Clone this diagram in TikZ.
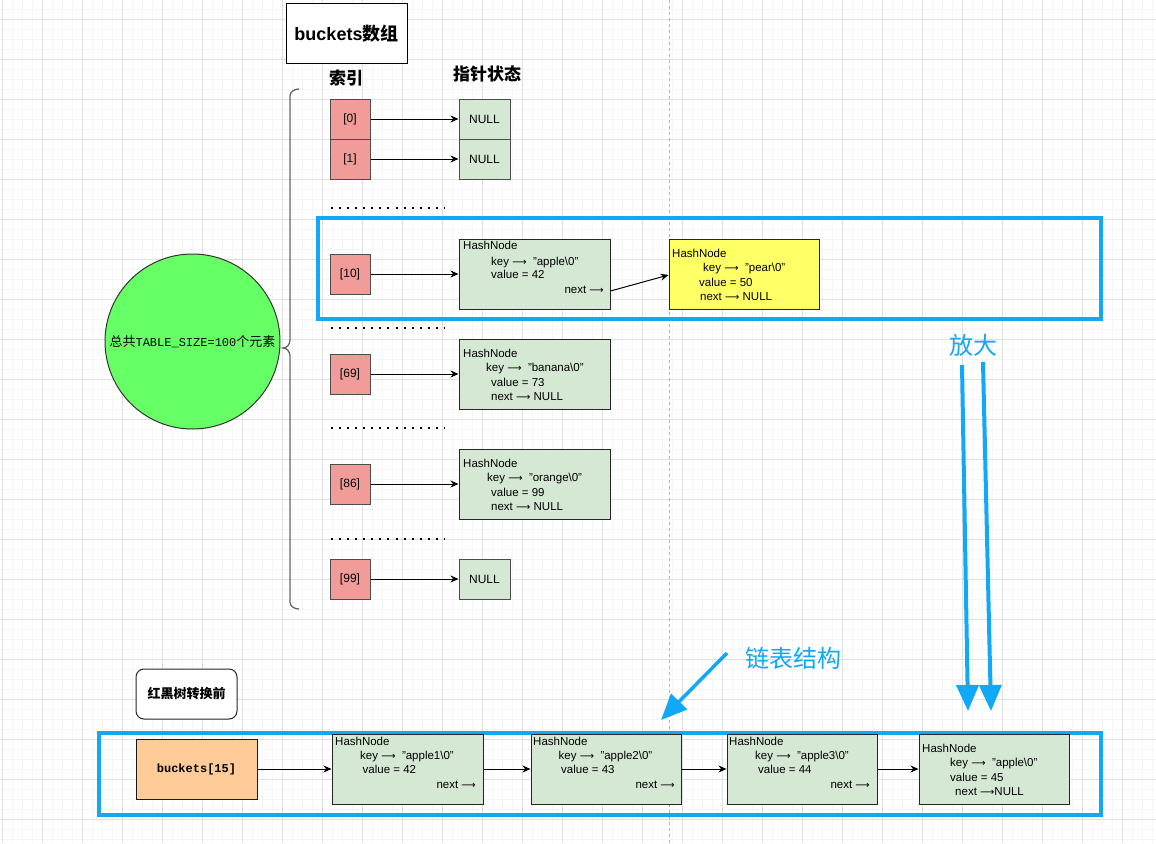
\documentclass[tikz,border=0pt]{standalone}
\usepackage{fontspec}
\setmainfont{Liberation Sans}
\newfontfamily\cjk{Noto Sans CJK SC}
\newfontfamily\monof{Liberation Mono}
\newfontfamily\symf{DejaVu Sans}
\usetikzlibrary{arrows.meta}
\newcommand{\mylarr}{{\symf\fontsize{10}{12}\selectfont ⟶}}
\newcommand{\qq}{\symbol{"22}}
\definecolor{blueX}{HTML}{12A8F8}
\definecolor{idxfill}{HTML}{F19C99}
\definecolor{hnfill}{HTML}{D5E8D4}
\definecolor{yelfill}{HTML}{FFFF66}
\definecolor{orafill}{HTML}{FFCC99}
\definecolor{circfill}{HTML}{66FF66}
\begin{document}
\begin{tikzpicture}[x=1pt,y=-1pt,
  gridminor/.style={draw=black!4, line width=0.8pt},
  gridmajor/.style={draw=black!12, line width=0.8pt},
  idx/.style={draw=black!70, fill=idxfill, minimum width=40pt, minimum height=40pt, inner sep=0pt, line width=1pt, font=\fontsize{12}{14}\selectfont},
  nullbox/.style={draw=black!70, fill=hnfill, minimum width=51pt, minimum height=40pt, inner sep=0pt, line width=1pt, font=\fontsize{12}{14}\selectfont},
  hnbox/.style={draw=black!85, fill=hnfill, minimum width=151pt, minimum height=70pt, inner sep=0pt, line width=1pt},
  txt/.style={inner sep=0pt, anchor=base west, font=\fontsize{11.5}{14}\selectfont},
  txtr/.style={inner sep=0pt, anchor=base east, font=\fontsize{11.5}{14}\selectfont},
  conn/.style={draw=black, line width=1pt, -{Stealth[length=8pt,width=7pt]}},
  dotrow/.style={draw=black, line width=2pt, dash pattern=on 2pt off 6.07pt},
  bluebox/.style={draw=blueX, line width=4pt},
  bigarrow/.style={draw=blueX, line width=4pt, -{Triangle[length=26pt,width=22pt]}},
  bluetext/.style={text=blueX, inner sep=0pt, font=\cjk\fontsize{24}{28}\selectfont},
  title/.style={draw=black, fill=white, line width=1pt, minimum width=121pt, minimum height=60pt, inner sep=0pt}
]
\useasboundingbox (0,0) rectangle (1156,843);
\fill[white] (0,0) rectangle (1156,843);
% grid
\foreach \x in {2,12,...,1156} \draw[gridminor] (\x,0) -- (\x,843);
\foreach \y in {9,19,...,843} \draw[gridminor] (0,\y) -- (1156,\y);
\foreach \x in {2,42,...,1156} \draw[gridmajor] (\x,0) -- (\x,843);
\foreach \y in {19,59,...,843} \draw[gridmajor] (0,\y) -- (1156,\y);
% page break line
\draw[black!30, line width=1pt, dash pattern=on 3pt off 3pt] (669,0) -- (669,843);

% header
\node[title] (hdr) at (346.5,34) {\fontsize{18}{20}\selectfont\bfseries buckets{\cjk 数组}};
\node[inner sep=0pt, font=\cjk\bfseries\fontsize{17}{20}\selectfont] (hidx) at (346,78) {索引};
\node[inner sep=0pt, font=\cjk\bfseries\fontsize{17}{20}\selectfont] (hptr) at (487,74) {指针状态};

% brace
\draw[black!60, line width=1.3pt] (299,89) to[out=180,in=90] (290,96) -- (290,340)
  to[out=-90,in=0] (283,348) to[out=0,in=90] (290,356) -- (290,602) to[out=-90,in=180] (299,609);

% circle
\node[circle, draw=black!80, fill=circfill, line width=1pt, minimum size=175pt, inner sep=0pt] (circ) at (192.5,341.5)
  {\fontsize{13}{16}\selectfont{\cjk 总共}{\monof\fontsize{12}{15}\selectfont TABLE\_SIZE=100}{\cjk 个元素}};

% blue frames
\node[bluebox, minimum width=783.5pt, minimum height=101pt, inner sep=0pt] (frameA) at (709.25,268.5) {};
\node[bluebox, minimum width=1002.5pt, minimum height=82pt, inner sep=0pt] (frameB) at (599.75,773.5) {};

% index boxes
\node[idx] (i0) at (350,119) {[0]};
\node[idx] (i1) at (350,159) {[1]};
\node[idx] (i10) at (350,274) {[10]};
\node[idx] (i69) at (350,374) {[69]};
\node[idx] (i86) at (350,484) {[86]};
\node[idx] (i99) at (350,579) {[99]};

% NULL boxes
\node[nullbox] (n0) at (484.5,119) {NULL};
\node[nullbox] (n1) at (484.5,159) {NULL};
\node[nullbox] (n99) at (484.5,579) {NULL};

% dotted rows
\coordinate (d1a) at (331,208); \coordinate (d1b) at (445,208);
\coordinate (d2a) at (331,328); \coordinate (d2b) at (445,328);
\coordinate (d3a) at (331,428); \coordinate (d3b) at (445,428);
\coordinate (d4a) at (331,539); \coordinate (d4b) at (445,539);
\draw[dotrow] (d1a) -- (d1b);
\draw[dotrow] (d2a) -- (d2b);
\draw[dotrow] (d3a) -- (d3b);
\draw[dotrow] (d4a) -- (d4b);

% hash nodes upper
\node[hnbox] (h10) at (534.5,274) {};
\node[txt] (h10a) at (463,249) {HashNode};
\node[txt] (h10b) at (491,265) {key \mylarr\ \ \qq apple\textbackslash 0\qq};
\node[txt] (h10c) at (491,278) {value = 42};
\node[txtr] (h10d) at (604,293) {next \mylarr};

\node[hnbox, fill=yelfill, minimum width=150pt] (y10) at (744,274) {};
\node[txt] (y10a) at (672,257) {HashNode};
\node[txt] (y10b) at (703,271) {key \mylarr\ \ \qq pear\textbackslash 0\qq};
\node[txt] (y10c) at (699,286) {value = 50};
\node[txt] (y10d) at (700,300) {next \mylarr\ NULL};

\node[hnbox] (h69) at (534.5,374) {};
\node[txt] (h69a) at (463,357) {HashNode};
\node[txt] (h69b) at (486,371) {key \mylarr\ \ \qq banana\textbackslash 0\qq};
\node[txt] (h69c) at (491,386) {value = 73};
\node[txt] (h69d) at (491,400) {next \mylarr\ NULL};

\node[hnbox] (h86) at (534.5,484) {};
\node[txt] (h86a) at (463,467) {HashNode};
\node[txt] (h86b) at (487,481) {key \mylarr\ \ \qq orange\textbackslash 0\qq};
\node[txt] (h86c) at (491,496) {value = 99};
\node[txt] (h86d) at (491,510) {next \mylarr\ NULL};

% upper connectors
\draw[conn] (i0) -- (n0);
\draw[conn] (i1) -- (n1);
\draw[conn] (i10) -- (h10);
\draw[conn] (i69) -- (h69);
\draw[conn] (i86) -- (h86);
\draw[conn] (i99) -- (n99);
\draw[conn] ([yshift=-17pt]h10.east) -- ([yshift=-1pt]y10.west);

% annotations
\node[bluetext] (zoomtxt) at (973,345) {放大};
\coordinate (fa1s) at (962,365); \coordinate (fa1e) at (968,711);
\coordinate (fa2s) at (983,362); \coordinate (fa2e) at (991,711);
\draw[bigarrow] (fa1s) -- (fa1e);
\draw[bigarrow] (fa2s) -- (fa2e);
\node[bluetext] (listtxt) at (793,658) {链表结构};
\coordinate (la1s) at (727,653); \coordinate (la1e) at (661,720);
\draw[bigarrow, line width=3.5pt] (la1s) -- (la1e);

% bottom
\node[draw=black!85, fill=white, rounded corners=8pt, line width=1pt, minimum width=101pt, minimum height=50pt, inner sep=0pt,
  font=\cjk\bfseries\fontsize{13}{15}\selectfont] (rbt) at (186.5,694) {红黑树转换前};
\node[draw=black!90, fill=orafill, line width=1pt, minimum width=121pt, minimum height=60pt, inner sep=0pt,
  font=\monof\bfseries\fontsize{12}{14}\selectfont] (b15) at (196.5,769) {buckets[15]};

\node[hnbox] (m1) at (407.5,769) {};
\node[txt] (m1a) at (335,745) {HashNode};
\node[txt] (m1b) at (360,759) {key \mylarr\ \ \qq apple1\textbackslash 0\qq};
\node[txt] (m1c) at (362.5,773) {value = 42};
\node[txtr] (m1d) at (476,788) {next \mylarr};

\node[hnbox, minimum width=150pt] (m2) at (606,769) {};
\node[txt] (m2a) at (533,745) {HashNode};
\node[txt] (m2b) at (558.5,759) {key \mylarr\ \ \qq apple2\textbackslash 0\qq};
\node[txt] (m2c) at (561,773) {value = 43};
\node[txtr] (m2d) at (675,788) {next \mylarr};

\node[hnbox, minimum width=150pt] (m3) at (802,769) {};
\node[txt] (m3a) at (729,745) {HashNode};
\node[txt] (m3b) at (755,759) {key \mylarr\ \ \qq apple3\textbackslash 0\qq};
\node[txt] (m3c) at (758,773) {value = 44};
\node[txtr] (m3d) at (870,788) {next \mylarr};

\node[hnbox, minimum width=150pt] (m4) at (994,769) {};
\node[txt] (m4a) at (922,752) {HashNode};
\node[txt] (m4b) at (950,766) {key \mylarr\ \ \qq apple\textbackslash 0\qq};
\node[txt] (m4c) at (950,781) {value = 45};
\node[txt] (m4d) at (955,795) {next \mylarr NULL};

\draw[conn] (b15) -- (m1);
\draw[conn] (m1) -- (m2);
\draw[conn] (m2) -- (m3);
\draw[conn] (m3) -- (m4);
\end{tikzpicture}
\end{document}
